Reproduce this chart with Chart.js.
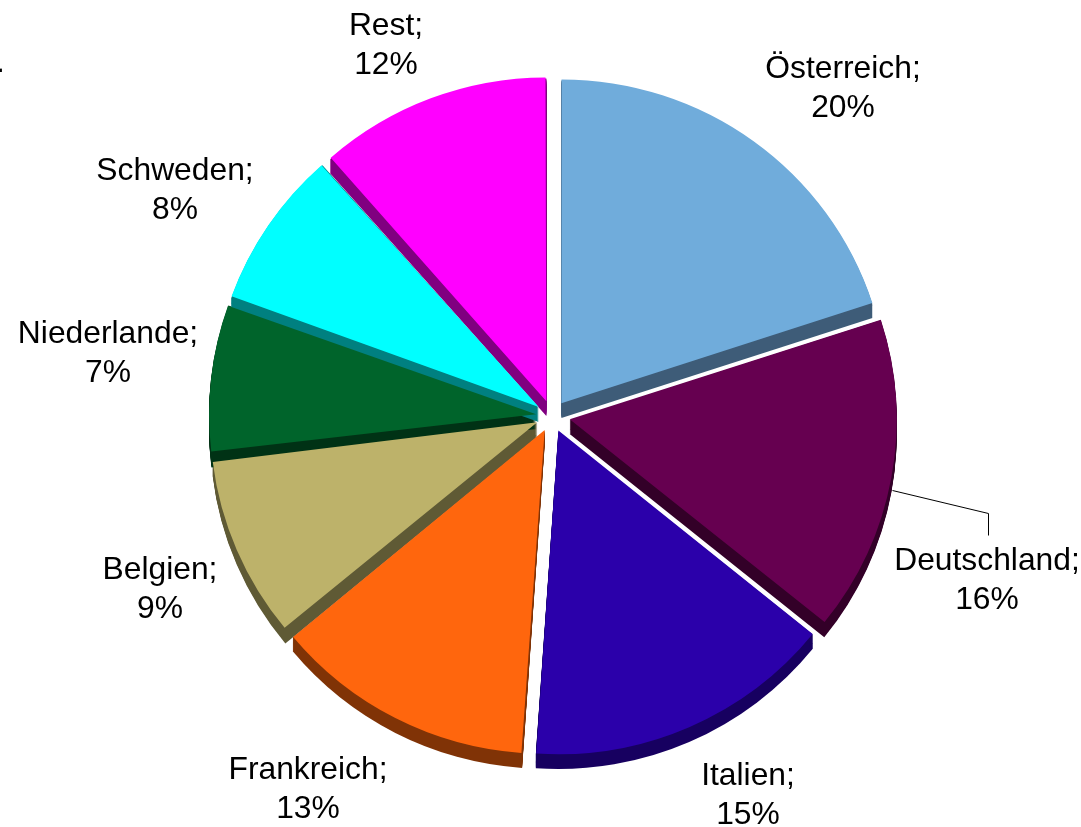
<!DOCTYPE html>
<html>
<head>
<meta charset="utf-8">
<script src="https://cdn.jsdelivr.net/npm/chart.js@4"></script>
<style>
  html, body { margin: 0; padding: 0; background: #fff; }
  canvas { display: block; }
</style>
</head>
<body>
<canvas id="pieChart" width="1081" height="827"></canvas>
<script>
// data, shares (labels show them rounded)
const countries = ['Österreich', 'Deutschland', 'Italien', 'Frankreich', 'Belgien', 'Niederlande', 'Schweden', 'Rest'];
const shares = [20, 15.8, 15.3, 12.9, 9.1, 7.4, 8, 11.5];
const faceColors = ['#70ACDB', '#660050', '#2B00AA', '#FF660D', '#BDB26A', '#00642B', '#00FFFF', '#FF00FF'];
const sideColors = ['#3E5C78', '#330028', '#170060', '#803306', '#5F5A35', '#003215', '#008080', '#800080'];

// centre of each label (text only, hand placed like in the original)
const labelX = [843, 987, 748, 308, 160, 108, 175, 386];
const labelY = [69, 561, 776, 770, 570, 334, 171, 26];
const lineGap = 39;
const leaderLine = [[892, 490], [988, 513], [988, 535]];

const sliceOffsets = [64, 72, 64, 64, 64, 64, 64, 64];  // chart.js moves an arc by offset / 4
const depth = 15;
const squash = 0.99;  // the original pie is a little flatter than a circle

// chart.js also grows narrow arcs when they have an offset, this is the amount
function radiusGrowth(arc, i) {
    return sliceOffsets[i] / 4 * (1 - Math.sin(Math.min(Math.PI, arc.circumference)));
}

const depthPlugin = {
    id: 'depth',
    // keep all slices the same size
    afterDatasetsUpdate(chart) {
        chart.getDatasetMeta(0).data.forEach((arc, i) => {
            arc.outerRadius -= radiusGrowth(arc, i);
        });
    },
    // side walls of the pie, drawn before the faces
    beforeDatasetsDraw(chart) {
        const ctx = chart.ctx;
        const arcs = chart.getDatasetMeta(0).data;
        ctx.save();
        ctx.translate(0, arcs[0].y);
        ctx.scale(1, squash);
        ctx.translate(0, -arcs[0].y);
        arcs.forEach((arc, i) => {
            const radius = arc.outerRadius + radiusGrowth(arc, i);
            const mid = (arc.startAngle + arc.endAngle) / 2;
            const cx = arc.x + Math.cos(mid) * sliceOffsets[i] / 4;
            const cy = arc.y + Math.sin(mid) * sliceOffsets[i] / 4;
            ctx.fillStyle = sideColors[i];
            for (let d = 1; d <= depth; d++) {
                ctx.beginPath();
                ctx.moveTo(cx, cy + d);
                ctx.arc(cx, cy + d, radius, arc.startAngle, arc.endAngle);
                ctx.closePath();
                ctx.fill();
            }
        });
    },
    afterDatasetsDraw(chart) {
        chart.ctx.restore();
    }
};

// labels and the leader line
const labelPlugin = {
    id: 'labels',
    afterDraw(chart) {
        const ctx = chart.ctx;
        ctx.save();
        ctx.strokeStyle = '#000';
        ctx.lineWidth = 1;
        ctx.beginPath();
        leaderLine.forEach((p, i) => i ? ctx.lineTo(p[0] + 0.5, p[1] + 0.5) : ctx.moveTo(p[0] + 0.5, p[1] + 0.5));
        ctx.stroke();

        ctx.fillStyle = '#000';
        ctx.font = '31.8px "Liberation Sans", Arial, sans-serif';
        ctx.textAlign = 'center';
        ctx.textBaseline = 'middle';
        countries.forEach((name, i) => {
            ctx.fillText(name + ';', labelX[i], labelY[i]);
            ctx.fillText(Math.round(shares[i]) + '%', labelX[i], labelY[i] + lineGap);
        });

        // clipped dot at the left edge of the original
        ctx.textAlign = 'left';
        ctx.textBaseline = 'alphabetic';
        ctx.fillText('.', -4, 72);
        ctx.restore();
    }
};

const chart = new Chart(document.getElementById('pieChart').getContext('2d'), {
    type: 'pie',
    data: {
        labels: countries,
        datasets: [{
            data: shares,
            backgroundColor: faceColors,
            borderWidth: 0,
            offset: sliceOffsets
        }]
    },
    options: {
        responsive: false,
        animation: false,
        radius: 327,
        layout: { padding: { left: 23, top: 5 } },
        plugins: { legend: { display: false }, tooltip: { enabled: false } }
    },
    plugins: [depthPlugin, labelPlugin]
});
</script>
</body>
</html>
